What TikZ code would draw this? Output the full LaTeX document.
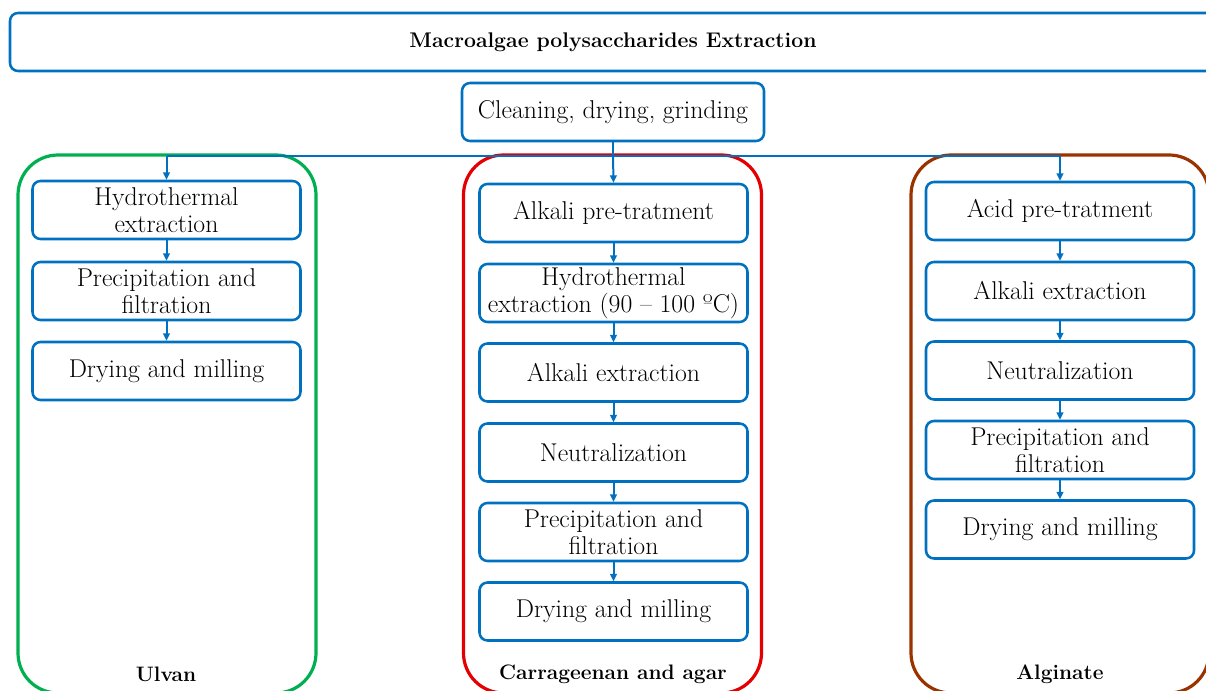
\documentclass[tikz,border=0pt]{standalone}
\usetikzlibrary{arrows.meta}
\definecolor{bl}{RGB}{0,112,192}
\definecolor{grn}{RGB}{0,176,80}
\definecolor{rd}{RGB}{228,0,0}
\definecolor{brn}{RGB}{153,51,0}
\begin{document}
\begin{tikzpicture}[x=0.75pt,y=-0.75pt,
  box/.style={draw=bl, line width=1.9pt, rounded corners=6pt, minimum width=201pt, minimum height=43.5pt, align=center, inner sep=1pt, font=\fontsize{19.3}{20.3}\selectfont},
  cont/.style={line width=2.4pt, rounded corners=30pt, minimum width=223.5pt, minimum height=403.5pt, inner sep=0pt},
  lab/.style={font=\bfseries\fontsize{15.7}{18}\selectfont},
  link/.style={draw=bl, line width=1.5pt},
  arr/.style={link, -{Triangle[length=5.5pt,width=5pt]}}
]
\clip (0,0) rectangle (1206,691);
\useasboundingbox (0,0) rectangle (1206,691);

% containers
\node[cont, draw=grn] (ulv) at (167,424) {};
\node[cont, draw=rd] (car) at (612.5,424) {};
\node[cont, draw=brn] (alg) at (1060,424) {};

\node[lab] (lulv) at (166,674) {Ulvan};
\node[lab] (lcar) at (613,674) {Carrageenan and agar};
\node[lab] (lalg) at (1060,674) {Alginate};

% title
\node[draw=bl, line width=1.9pt, rounded corners=6pt, minimum width=904.5pt, minimum height=43.5pt, font=\bfseries\fontsize{15.9}{18}\selectfont] (title) at (613,42) {Macroalgae polysaccharides Extraction};

\node[box, minimum width=226.5pt] (clean) at (613,112) {Cleaning, drying, grinding};

% Ulvan
\node[box] (u1) at (166.5,210) {Hydrothermal\\extraction};
\node[box] (u2) at (166.5,291) {Precipitation and\\filtration};
\node[box] (u3) at (166.5,371) {Drying and milling};

% Carrageenan
\node[box] (c1) at (613.5,213) {Alkali pre-tratment};
\node[box] (c2) at (613.5,293) {Hydrothermal\\extraction (90 -- 100 ºC)};
\node[box] (c3) at (613.5,372.5) {Alkali extraction};
\node[box] (c4) at (613.5,452.5) {Neutralization};
\node[box] (c5) at (613.5,532) {Precipitation and\\filtration};
\node[box] (c6) at (613.5,611.5) {Drying and milling};

% Alginate
\node[box] (a1) at (1060,211) {Acid pre-tratment};
\node[box] (a2) at (1060,291) {Alkali extraction};
\node[box] (a3) at (1060,370.5) {Neutralization};
\node[box] (a4) at (1060,450) {Precipitation and\\filtration};
\node[box] (a5) at (1060,529.5) {Drying and milling};

% split
\coordinate (split) at (613,156);
\coordinate (jl) at (166.5,156);
\coordinate (jr) at (1060,156);
\draw[link] (clean.south) -- (split);
\draw[link] (jl) -- (jr);
\draw[arr] (split) -- (c1.north);
\draw[arr] (jl) -- (u1.north);
\draw[arr] (jr) -- (a1.north);

\draw[arr] (u1.south) -- (u2.north);
\draw[arr] (u2.south) -- (u3.north);
\draw[arr] (c1.south) -- (c2.north);
\draw[arr] (c2.south) -- (c3.north);
\draw[arr] (c3.south) -- (c4.north);
\draw[arr] (c4.south) -- (c5.north);
\draw[arr] (c5.south) -- (c6.north);
\draw[arr] (a1.south) -- (a2.north);
\draw[arr] (a2.south) -- (a3.north);
\draw[arr] (a3.south) -- (a4.north);
\draw[arr] (a4.south) -- (a5.north);
\end{tikzpicture}
\end{document}
